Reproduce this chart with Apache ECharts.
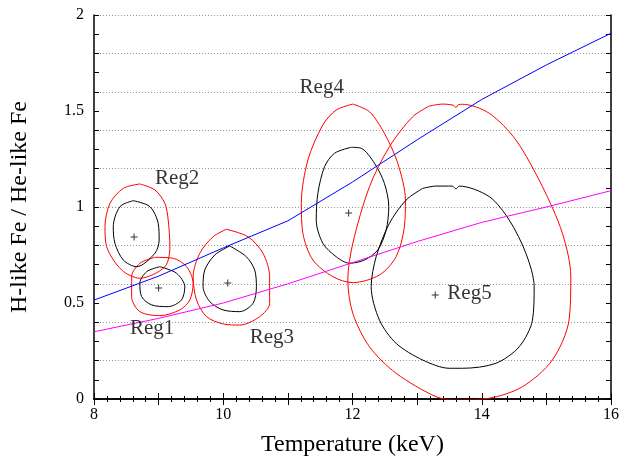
<!DOCTYPE html>
<html>
<head>
<meta charset="utf-8">
<script src="https://cdn.jsdelivr.net/npm/echarts@6/dist/echarts.min.js"></script>
<style>
  html, body { margin: 0; padding: 0; background: #fff; }
  #chart { width: 622px; height: 462px; }
</style>
</head>
<body>
<div id="chart"></div>
<script>
const FONT = '"Liberation Serif", "Times New Roman", serif';

// Model curves: temperature (keV) vs H-like / He-like Fe ratio
const modelT = [8, 9, 10, 11, 12, 13, 14, 15, 16];
const blueRatio = [0.515, 0.64, 0.787, 0.928, 1.13, 1.35, 1.56, 1.74, 1.905];
const magentaRatio = [0.35, 0.42, 0.50, 0.60, 0.71, 0.82, 0.92, 1.0, 1.085];

// Best-fit values per region
const regNames = ['Reg1', 'Reg2', 'Reg3', 'Reg4', 'Reg5'];
const bestT = [9.00, 8.62, 10.07, 11.94, 13.28];
const bestRatio = [0.578, 0.844, 0.604, 0.969, 0.542];

// Region label anchors (left edge of text)
const labelT = [8.556, 8.942, 10.409, 11.181, 13.467];
const labelRatio = [0.365, 1.151, 0.318, 1.620, 0.547];

// Confidence contours [kT, ratio]; inner = black, outer = red
const reg1Inner = [[9.019,0.689],[9.277,0.655],[9.405,0.585],[9.354,0.516],[9.148,0.481],[8.891,0.490],[8.737,0.533],[8.710,0.603],[8.814,0.663]];
const reg1Outer = [[8.942,0.738],[9.225,0.733],[9.432,0.689],[9.534,0.603],[9.483,0.516],[9.328,0.464],[9.019,0.434],[8.710,0.455],[8.582,0.533],[8.582,0.637],[8.710,0.707]];

const reg2Inner = [[8.607,1.033],[8.865,1.002],[8.993,0.915],[9.008,0.828],[8.942,0.759],[8.659,0.689],[8.453,0.724],[8.324,0.811],[8.298,0.897],[8.402,1.002]];
const reg2Outer = [[8.710,1.120],[8.942,1.089],[9.097,1.019],[9.148,0.932],[9.174,0.793],[9.097,0.689],[8.710,0.629],[8.428,0.672],[8.196,0.793],[8.170,0.897],[8.247,1.019],[8.453,1.097]];

const reg3Inner = [[10.100,0.797],[10.358,0.741],[10.486,0.672],[10.513,0.585],[10.460,0.498],[10.255,0.455],[9.997,0.464],[9.792,0.507],[9.688,0.585],[9.714,0.672],[9.869,0.750]];
const reg3Outer = [[10.049,0.884],[10.383,0.845],[10.615,0.759],[10.718,0.637],[10.718,0.498],[10.564,0.429],[10.255,0.385],[9.997,0.391],[9.741,0.429],[9.586,0.516],[9.534,0.637],[9.637,0.759],[9.842,0.845]];

const reg4Inner = [[11.980,1.311],[12.134,1.306],[12.340,1.228],[12.494,1.123],[12.561,1.002],[12.521,0.880],[12.391,0.776],[12.185,0.724],[11.954,0.707],[11.748,0.741],[11.541,0.811],[11.439,0.932],[11.464,1.071],[11.568,1.210],[11.722,1.280]];
const reg4Outer = [[12.005,1.536],[12.263,1.496],[12.494,1.384],[12.700,1.228],[12.819,1.036],[12.803,0.897],[12.675,0.741],[12.417,0.646],[12.005,0.606],[11.696,0.637],[11.387,0.724],[11.232,0.863],[11.208,1.019],[11.310,1.245],[11.541,1.427],[11.748,1.505]];

const reg5Inner = [[13.086,1.097],[13.293,1.109],[13.544,1.109],[13.602,1.094],[13.652,1.109],[14.116,1.054],[14.425,0.932],[14.683,0.759],[14.811,0.585],[14.785,0.411],[14.579,0.272],[14.219,0.186],[13.703,0.160],[13.498,0.160],[13.086,0.203],[12.675,0.290],[12.417,0.411],[12.289,0.585],[12.366,0.741],[12.571,0.915],[12.829,1.036]];
const reg5Outer = [[13.189,1.526],[13.395,1.536],[13.560,1.530],[13.600,1.518],[13.640,1.533],[13.703,1.535],[14.116,1.488],[14.528,1.349],[14.939,1.106],[15.248,0.863],[15.378,0.637],[15.351,0.411],[15.093,0.203],[14.630,0.064],[14.116,0.004],[13.602,-0.005],[13.293,0.012],[12.675,0.134],[12.263,0.272],[12.005,0.446],[11.927,0.620],[12.005,0.811],[12.263,1.106],[12.571,1.314],[12.931,1.470]];

const contours = [
  [reg1Outer, '#ff0000'], [reg1Inner, '#000000'],
  [reg2Outer, '#ff0000'], [reg2Inner, '#000000'],
  [reg3Outer, '#ff0000'], [reg3Inner, '#000000'],
  [reg4Outer, '#ff0000'], [reg4Inner, '#000000'],
  [reg5Outer, '#ff0000'], [reg5Inner, '#000000']
];

const closeLoop = pts => pts.concat([pts[0]]);
const zipXY = (xs, ys) => xs.map((x, i) => [x, ys[i]]);

const axisLineStyle = { color: '#000', width: 1.5 };
const tickStyle = { color: '#000', width: 1 };

const series = [];
contours.forEach(([pts, color]) => {
  series.push({
    type: 'line',
    data: closeLoop(pts),
    smooth: 0.3,
    showSymbol: false,
    silent: true,
    lineStyle: { color: color, width: 1 },
    z: 3
  });
});
series.push({
  type: 'line', data: zipXY(modelT, blueRatio), showSymbol: false, silent: true,
  lineStyle: { color: '#0000ff', width: 1 }, z: 4
});
series.push({
  type: 'line', data: zipXY(modelT, magentaRatio), showSymbol: false, silent: true,
  lineStyle: { color: '#ff00ff', width: 1 }, z: 4
});
series.push({
  type: 'scatter', data: zipXY(bestT, bestRatio), silent: true,
  symbol: 'path://M3,0H4V3H7V4H4V7H3V4H0V3H3Z', symbolSize: 7,
  itemStyle: { color: '#000' }, z: 5
});
series.push({
  type: 'scatter', silent: true, symbolSize: 0,
  data: regNames.map((n, i) => ({ name: n, value: [labelT[i], labelRatio[i]] })),
  label: {
    show: true, position: 'right', distance: 0, formatter: '{b}',
    color: '#000', fontFamily: FONT, fontSize: 21
  },
  z: 6
});

const chart = echarts.init(document.getElementById('chart'), null, { renderer: 'canvas' });
chart.setOption({
  animation: false,
  backgroundColor: '#fff',
  grid: { left: 94, right: 10, top: 15, bottom: 63, containLabel: false },
  xAxis: [
    {
      type: 'value', position: 'bottom', min: 8, max: 16, interval: 1,
      axisLine: { lineStyle: axisLineStyle },
      axisTick: { inside: true, length: 6, lineStyle: tickStyle },
      minorTick: { show: true, splitNumber: 5, length: 3, lineStyle: tickStyle },
      axisLabel: {
        margin: 8, color: '#000', fontFamily: FONT, fontSize: 16,
        formatter: v => (v % 2 === 0 ? String(v) : '')
      },
      splitLine: { show: false },
      name: 'Temperature (keV)', nameLocation: 'middle', nameGap: 34,
      nameTextStyle: { color: '#000', fontFamily: FONT, fontSize: 24 }
    },
    {
      type: 'value', position: 'top', min: 8, max: 16, interval: 1,
      axisLine: { lineStyle: axisLineStyle },
      axisTick: { inside: true, length: 6, lineStyle: tickStyle },
      minorTick: { show: true, splitNumber: 5, length: 3, lineStyle: tickStyle },
      axisLabel: { show: false },
      splitLine: { show: false }
    }
  ],
  yAxis: [
    {
      type: 'value', position: 'left', min: 0, max: 2, interval: 0.5,
      axisLine: { lineStyle: axisLineStyle },
      axisTick: { inside: true, length: 5, lineStyle: tickStyle },
      minorTick: { show: true, splitNumber: 5, length: 5, lineStyle: tickStyle },
      axisLabel: { margin: 10, color: '#000', fontFamily: FONT, fontSize: 16 },
      splitLine: { show: false },
      name: 'H-like Fe / He-like Fe', nameLocation: 'middle', nameGap: 62,
      nameTextStyle: { color: '#000', fontFamily: FONT, fontSize: 24 }
    },
    {
      type: 'value', position: 'right', min: 0, max: 2, interval: 0.5,
      axisLine: { lineStyle: axisLineStyle },
      axisTick: { inside: true, length: 5, lineStyle: tickStyle },
      minorTick: { show: true, splitNumber: 5, length: 5, lineStyle: tickStyle },
      axisLabel: { show: false },
      splitLine: { show: false }
    },
    {
      // dotted reference lines every 0.2
      type: 'value', position: 'left', min: 0, max: 2, interval: 0.2,
      axisLine: { show: false }, axisTick: { show: false }, axisLabel: { show: false },
      splitLine: { show: true, lineStyle: { color: '#999', width: 1, type: [1, 2] } }
    }
  ],
  series: series
});
</script>
</body>
</html>
